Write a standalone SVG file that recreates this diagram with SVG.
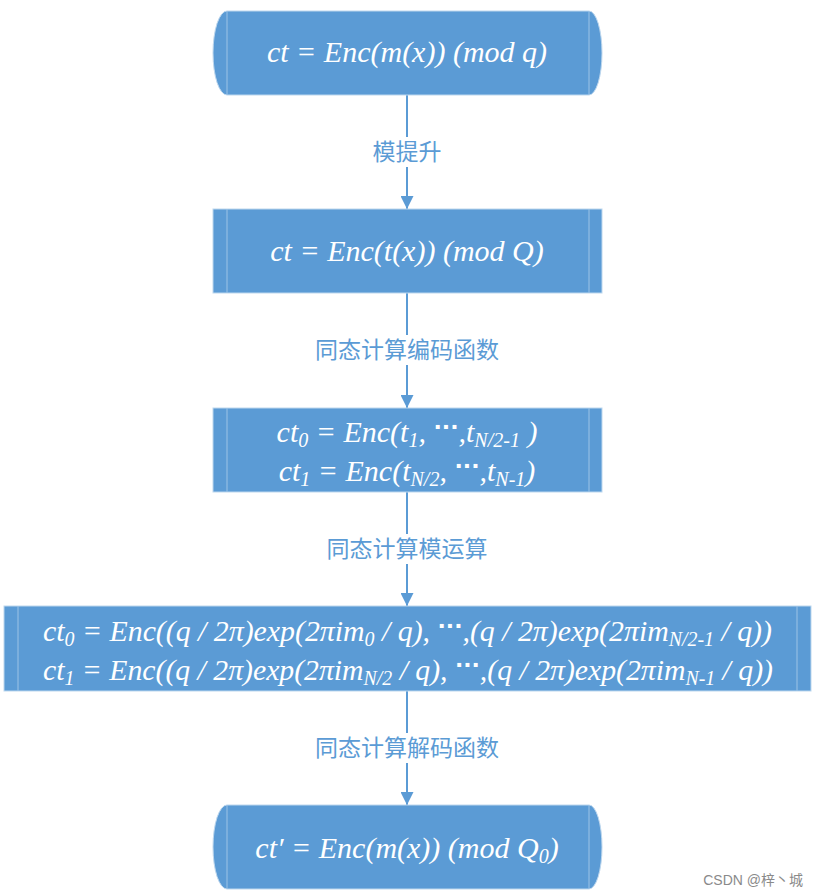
<svg xmlns="http://www.w3.org/2000/svg" width="818" height="896" viewBox="0 0 818 896">
<defs>
<style>
.box{fill:#5B9BD5;stroke:#BDD7EE;stroke-width:1}
.inner{stroke:#9DC3E6;stroke-width:1}
.t{font-family:"Liberation Serif","Times New Roman",serif;font-style:italic;font-size:30px;fill:#FFFFFF;text-anchor:middle}
.ts{font-family:"Liberation Serif","Times New Roman",serif;font-style:italic;font-size:30px;fill:#FFFFFF;text-anchor:start}
.s{font-size:20px}
.lbl{font-family:"Noto Sans CJK SC","Noto Sans",sans-serif;font-size:23px;fill:#5B9BD5;text-anchor:middle}
.conn{stroke:#5B9BD5;stroke-width:2;fill:none}
.dots{font-family:"DejaVu Sans",sans-serif;font-style:normal;font-weight:bold;font-size:22px}
</style>
<marker id="ah" markerWidth="13" markerHeight="13" refX="13" refY="6.5" orient="auto" markerUnits="userSpaceOnUse">
<path d="M0,0 L13,6.5 L0,13 Z" fill="#5B9BD5"/>
</marker>
</defs>
<rect width="818" height="896" fill="#FFFFFF"/>

<g id="connectors">
<g id="c1"><line class="conn" x1="407" y1="95" x2="407" y2="209" marker-end="url(#ah)"/><rect x="368" y="137" width="78" height="30" fill="#FFFFFF"/><text class="lbl" x="407" y="160">模提升</text></g>
<g id="c2"><line class="conn" x1="407" y1="293" x2="407" y2="408" marker-end="url(#ah)"/><rect x="312" y="335" width="190" height="30" fill="#FFFFFF"/><text class="lbl" x="407" y="358">同态计算编码函数</text></g>
<g id="c3"><line class="conn" x1="407" y1="492" x2="407" y2="606" marker-end="url(#ah)"/><rect x="324" y="534" width="166" height="30" fill="#FFFFFF"/><text class="lbl" x="407" y="557">同态计算模运算</text></g>
<g id="c4"><line class="conn" x1="407" y1="691" x2="407" y2="805" marker-end="url(#ah)"/><rect x="312" y="733" width="190" height="30" fill="#FFFFFF"/><text class="lbl" x="407" y="756">同态计算解码函数</text></g>
</g>

<g id="n1">
<path class="box" d="M227,11 H589 A13,42 0 0 1 589,95 H227 A14,42 0 0 1 227,11 Z"/>
<line class="inner" x1="227" y1="11" x2="227" y2="95"/><line class="inner" x1="589" y1="11" x2="589" y2="95"/>
<text class="t" x="407" y="62">ct = Enc(m(x)) (mod q)</text>
</g>

<g id="n2">
<rect class="box" x="213" y="209" width="389" height="84"/>
<line class="inner" x1="227" y1="209" x2="227" y2="293"/><line class="inner" x1="589" y1="209" x2="589" y2="293"/>
<text class="t" x="407" y="261">ct = Enc(t(x)) (mod Q)</text>
</g>

<g id="n3">
<rect class="box" x="213" y="408" width="389" height="84"/>
<line class="inner" x1="227" y1="408" x2="227" y2="492"/><line class="inner" x1="589" y1="408" x2="589" y2="492"/>
<text class="t" x="407" y="442">ct<tspan class="s" dy="5">0</tspan><tspan dy="-5"> = Enc(t</tspan><tspan class="s" dy="5">1</tspan><tspan dy="-5">, </tspan><tspan class="dots" dy="-8">···</tspan><tspan dy="8">,t</tspan><tspan class="s" dy="5">N/2-1</tspan><tspan dy="-5"> )</tspan></text>
<text class="t" x="407" y="481">ct<tspan class="s" dy="5">1</tspan><tspan dy="-5"> = Enc(t</tspan><tspan class="s" dy="5">N/2</tspan><tspan dy="-5">, </tspan><tspan class="dots" dy="-8">···</tspan><tspan dy="8">,t</tspan><tspan class="s" dy="5">N-1</tspan><tspan dy="-5">)</tspan></text>
</g>

<g id="n4">
<rect class="box" x="4" y="606" width="807" height="85"/>
<line class="inner" x1="18" y1="606" x2="18" y2="691"/><line class="inner" x1="797" y1="606" x2="797" y2="691"/>
<text class="ts" x="43" y="641" textLength="729" lengthAdjust="spacingAndGlyphs">ct<tspan class="s" dy="5">0</tspan><tspan dy="-5"> = Enc((q / 2π)exp(2πim</tspan><tspan class="s" dy="5">0</tspan><tspan dy="-5"> / q), </tspan><tspan class="dots" dy="-8">···</tspan><tspan dy="8">,(q / 2π)exp(2πim</tspan><tspan class="s" dy="5">N/2-1</tspan><tspan dy="-5"> / q))</tspan></text>
<text class="ts" x="43" y="680" textLength="730" lengthAdjust="spacingAndGlyphs">ct<tspan class="s" dy="5">1</tspan><tspan dy="-5"> = Enc((q / 2π)exp(2πim</tspan><tspan class="s" dy="5">N/2</tspan><tspan dy="-5"> / q), </tspan><tspan class="dots" dy="-8">···</tspan><tspan dy="8">,(q / 2π)exp(2πim</tspan><tspan class="s" dy="5">N-1</tspan><tspan dy="-5"> / q))</tspan></text>
</g>

<g id="n5">
<path class="box" d="M227,805 H589 A13,42 0 0 1 589,889 H227 A14,42 0 0 1 227,805 Z"/>
<line class="inner" x1="227" y1="805" x2="227" y2="889"/><line class="inner" x1="589" y1="805" x2="589" y2="889"/>
<text class="t" x="407" y="858">ct′ = Enc(m(x)) (mod Q<tspan class="s" dy="5">0</tspan><tspan dy="-5">)</tspan></text>
</g>

<text x="803" y="885" text-anchor="end" font-family="'Liberation Sans','Noto Sans CJK SC',sans-serif" font-size="14" fill="#8A8A8A">CSDN @梓丶城</text>
</svg>
